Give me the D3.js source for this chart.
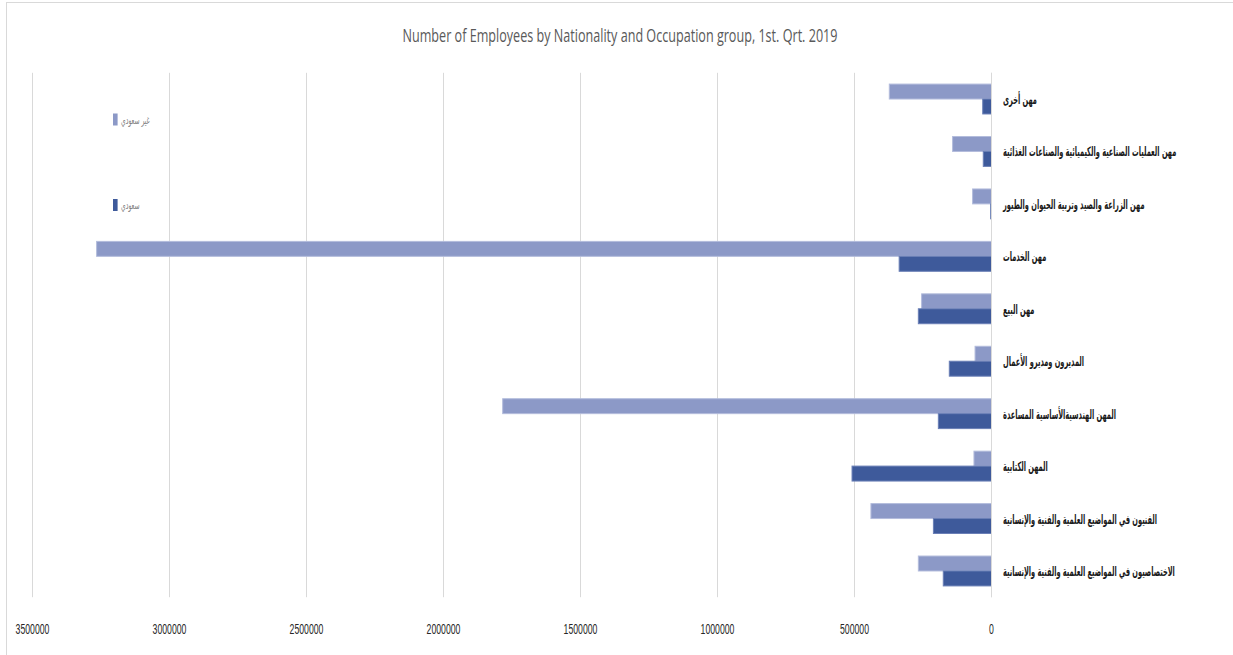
<!DOCTYPE html>
<html>
<head>
<meta charset="utf-8">
<script src="https://cdnjs.cloudflare.com/ajax/libs/d3/7.8.5/d3.min.js"></script>
<style>
  html, body { margin: 0; padding: 0; background: #fff; }
  svg { display: block; }
</style>
</head>
<body>
<div id="chart"></div>
<script>
// occupation groups, top to bottom
var categories = [
  "مهن أخرى",
  "مهن العمليات الصناعية والكيميائية والصناعات الغذائية",
  "مهن الزراعة  والصيد وتربية الحيوان والطيور",
  "مهن الخدمات",
  "مهن البيع",
  "المديرون ومديرو الأعمال",
  "المهن الهندسيةالأساسية المساعدة",
  "المهن الكتابية",
  "الفنيون في المواضيع العلمية والفنية والإنسانية",
  "الاختصاصيون في المواضيع العلمية والفنية والإنسانية"
];
var seriesNames = ["غير سعودي", "سعودي"];
var nonSaudi = [373000, 142000, 69000, 3266000, 255000, 60000, 1784000, 64000, 440000, 267000];
var saudi    = [32000, 30000, 3000, 337000, 267000, 154000, 194000, 509000, 212000, 176000];
var tickValues = [0, 500000, 1000000, 1500000, 2000000, 2500000, 3000000, 3500000];

var width = 1233, height = 655;
var colors = ["#8c99c7", "#3e5a9b"];
var strokes = ["#b3bcdc", "#6a7fb6"];

var svg = d3.select("#chart").append("svg")
  .attr("width", width)
  .attr("height", height);

// outer chart border
svg.append("rect")
  .attr("x", 6.5).attr("y", 2.5)
  .attr("width", 1300).attr("height", 700)
  .attr("fill", "#fff")
  .attr("stroke", "#d9d9d9");

var x = d3.scaleLinear()
  .domain([0, 3500000])
  .range([991.5, 32.5]);

var y = d3.scaleBand()
  .domain(categories)
  .range([72.8, 597.2])
  .paddingInner(0.43)
  .paddingOuter(0.215);

var ySub = d3.scaleBand()
  .domain([0, 1])
  .range([0, y.bandwidth()]);

// gridlines
svg.append("g").selectAll("line")
  .data(tickValues)
  .enter().append("line")
  .attr("x1", function(d) { return x(d); })
  .attr("x2", function(d) { return x(d); })
  .attr("y1", 72.8)
  .attr("y2", 597.2)
  .attr("stroke", "#d9d9d9")
  .attr("stroke-width", 1);

// tick labels
svg.append("g").selectAll("text")
  .data(tickValues)
  .enter().append("text")
  .attr("x", function(d) { return x(d); })
  .attr("y", 634)
  .attr("text-anchor", "middle")
  .attr("font-family", "Liberation Sans, Arial, sans-serif")
  .attr("font-size", 15)
  .attr("fill", "#262626")
  .text(function(d) { return d; })
  .each(function() {
    var len = this.getComputedTextLength();
    d3.select(this)
      .attr("textLength", len * 0.58)
      .attr("lengthAdjust", "spacingAndGlyphs");
  });

// bars
var series = [nonSaudi, saudi];
var groups = svg.append("g").selectAll("g")
  .data(series)
  .enter().append("g")
  .attr("fill", function(d, i) { return colors[i]; })
  .attr("stroke", function(d, i) { return strokes[i]; });

groups.each(function(vals, si) {
  d3.select(this).selectAll("rect")
    .data(vals)
    .enter().append("rect")
    .attr("x", function(d) { return x(d); })
    .attr("y", function(d, i) { return y(categories[i]) + ySub(si); })
    .attr("width", function(d) { return x(0) - x(d); })
    .attr("height", ySub.bandwidth())
    .attr("stroke-width", 1);
});

// vertical axis line at zero
svg.append("line")
  .attr("x1", x(0)).attr("x2", x(0))
  .attr("y1", 72.8).attr("y2", 597.2)
  .attr("stroke", "#d9d9d9");

// category labels (right of the zero line), squeezed horizontally
svg.append("g").selectAll("text")
  .data(categories)
  .enter().append("text")
  .attr("transform", function(d) {
    return "translate(1003," + (y(d) + y.bandwidth() / 2 + 5) + ") scale(0.51,1)";
  })
  .attr("font-family", "DejaVu Sans, sans-serif")
  .attr("font-size", 13)
  .attr("font-weight", "bold")
  .attr("fill", "#1a1a1a")
  .text(function(d) { return d; });

// title
svg.append("text")
  .attr("x", 620)
  .attr("y", 42)
  .attr("text-anchor", "middle")
  .attr("font-family", "Open Sans, sans-serif")
  .attr("font-size", 18)
  .attr("fill", "#595959")
  .attr("textLength", 435)
  .attr("lengthAdjust", "spacingAndGlyphs")
  .text("Number of Employees by Nationality and Occupation group, 1st. Qrt. 2019");

// legend
var legendY = [119.5, 205];
var legend = svg.append("g").selectAll("g")
  .data(seriesNames)
  .enter().append("g")
  .attr("transform", function(d, i) { return "translate(113," + legendY[i] + ")"; });

legend.append("rect")
  .attr("x", 0)
  .attr("y", -6)
  .attr("width", 4.6)
  .attr("height", 12)
  .attr("fill", function(d, i) { return colors[i]; });

legend.append("text")
  .attr("transform", "translate(8,4) scale(0.55,1)")
  .attr("font-family", "DejaVu Sans, sans-serif")
  .attr("font-size", 11)
  .attr("fill", "#7f7f7f")
  .text(function(d) { return d; });
</script>
</body>
</html>
